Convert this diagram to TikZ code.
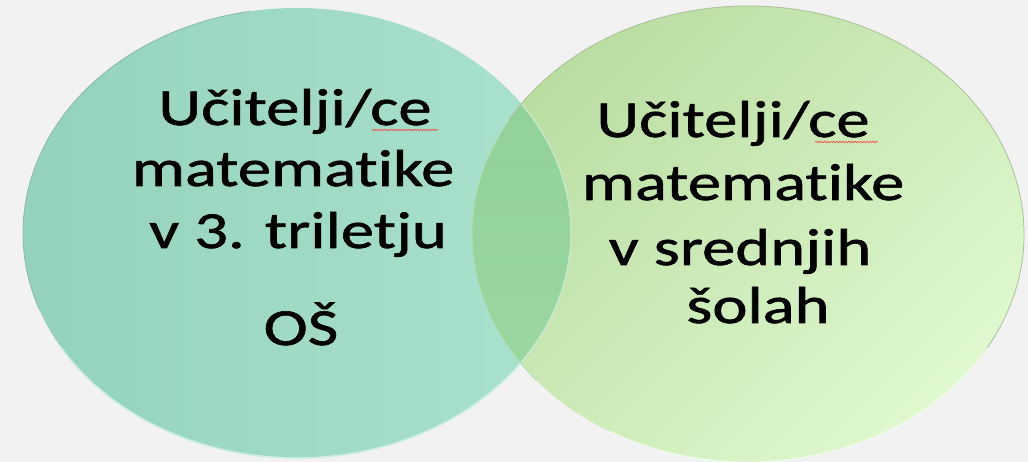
\documentclass[tikz,border=0pt]{standalone}
\usepackage{fontspec}
\usetikzlibrary{decorations.pathmorphing}
\newfontfamily\vennfont[FakeStretch=1.28,FakeBold=1.2,RawFeature={-liga;-dlig}]{Carlito}
\definecolor{bgc}{HTML}{F2F2F2}
\definecolor{leftA}{HTML}{94D2BB}
\definecolor{leftB}{HTML}{AAE2CE}
\definecolor{rightA}{HTML}{BADDA1}
\definecolor{rightB}{HTML}{DFF8CF}
\definecolor{overA}{HTML}{8FCF98}
\definecolor{overB}{HTML}{9ED9A2}
\tikzset{
  lbl/.style={anchor=base, inner sep=0pt, font=\vennfont\fontsize{52}{61}\selectfont, text=black},
  spell/.style={draw=red!75, line width=0.6pt, decorate, decoration={snake, amplitude=0.8pt, segment length=3pt}}
}
\begin{document}
\begin{tikzpicture}[x=1pt,y=-1pt]
\fill[bgc] (0,0) rectangle (1028,462);
\useasboundingbox (0,0) rectangle (1028,462);
\coordinate (Lc) at (297,233);
\coordinate (Rc) at (748,234);
% left circle
\shade[left color=leftA, right color=leftB] (Lc) ellipse [x radius=274pt, y radius=225pt];
% right circle
\shade[top color=rightA, bottom color=rightB, shading angle=45] (Rc) ellipse [x radius=276pt, y radius=228pt];
% overlap
\begin{scope}
  \clip (Lc) ellipse [x radius=274pt, y radius=225pt];
  \shade[top color=overA, bottom color=overB] (Rc) ellipse [x radius=276pt, y radius=228pt];
\end{scope}
% rims
\draw[line width=0.8pt, color=leftA!85!black!90] (Lc) ++(100:274pt and 225pt) arc[start angle=100, end angle=200, x radius=274pt, y radius=225pt];
\draw[line width=1.6pt, color=leftB!60!white] (Lc) ++(-5:274pt and 225pt) arc[start angle=-5, end angle=-150, x radius=274pt, y radius=225pt];
\begin{scope}
  \clip (Rc) ellipse [x radius=276pt, y radius=228pt];
  \draw[line width=1.4pt, color=overB!60!white] (Lc) ellipse [x radius=274pt, y radius=225pt];
\end{scope}
\draw[line width=0.8pt, color=rightA!80!black!80] (Rc) ++(150:276pt and 228pt) arc[start angle=150, end angle=-30, x radius=276pt, y radius=228pt];
\draw[line width=1.2pt, color=rightB!50!white] (Rc) ++(-35:276pt and 228pt) arc[start angle=-35, end angle=-120, x radius=276pt, y radius=228pt];
\draw[line width=0.8pt, color=overA!70!white] (Rc) ++(150:276pt and 228pt) arc[start angle=150, end angle=220, x radius=276pt, y radius=228pt];
% left texts
\node[lbl] (l1) at (295,125) {Učitelji/ce};
\node[lbl] (l2) at (293,186) {matematike};
\node[lbl] (l3) at (298,248) {v 3. triletju};
\node[lbl] (l4) at (301,345) {OŠ};
% right texts
\node[lbl] (r1) at (733,137) {Učitelji/ce};
\node[lbl] (r2) at (743,200) {matematike};
\node[lbl] (r3) at (740,265) {v srednjih};
\node[lbl] (r4) at (758,323) {šolah};
% spell-check underlines
\coordinate (u1a) at (372,130);
\coordinate (u1b) at (438,130);
\coordinate (u2a) at (815,142);
\coordinate (u2b) at (878,142);
\draw[spell] (u1a) -- (u1b);
\draw[spell] (u2a) -- (u2b);
\end{tikzpicture}
\end{document}
